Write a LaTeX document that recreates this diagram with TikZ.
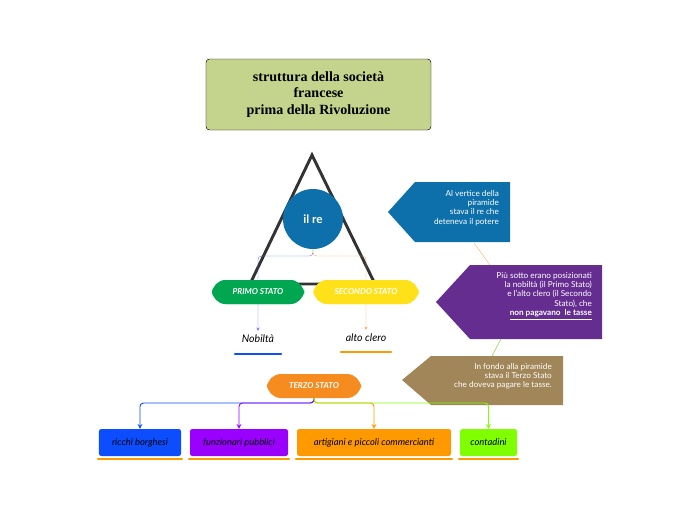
\documentclass[tikz,border=0pt]{standalone}
\usepackage{fontspec}
\setmainfont{Lato}
\newfontfamily\titlefont{Liberation Serif}
\usetikzlibrary{shapes,arrows,positioning,fit}
\definecolor{titlegreen}{HTML}{C5D48C}
\definecolor{reblue}{HTML}{0E70AA}
\definecolor{primogreen}{HTML}{00A650}
\definecolor{secyellow}{HTML}{FFE11A}
\definecolor{terzoorange}{HTML}{F68B1F}
\definecolor{calpurple}{HTML}{662D91}
\definecolor{calbrown}{HTML}{A08658}
\definecolor{kidblue}{HTML}{0B4DFF}
\definecolor{kidpurple}{HTML}{9900FF}
\definecolor{kidorange}{HTML}{FF9900}
\definecolor{kidlime}{HTML}{7FFF00}
\begin{document}
\begin{tikzpicture}[
    x=0.03cm,y=-0.03cm,
    stato/.style={rounded corners=12,minimum height=0.72cm,text=white,font=\scriptsize\bfseries\itshape},
    kid/.style={rounded corners=2,minimum height=0.81cm,font=\footnotesize\itshape},
    note/.style={text=white,font=\scriptsize,align=right},
    link/.style={->,>=stealth,thick,rounded corners=3},
    thin/.style={line width=0.3pt}
]
    \useasboundingbox (0,0) rectangle (697,520);

    \node[draw,rounded corners=3,fill=titlegreen,minimum width=6.75cm,minimum height=2.13cm,
        align=center,font=\titlefont\bfseries\large] (title) at (318.5,94.5)
        {struttura della società\\ francese\\ prima della Rivoluzione};

    % piramide
    \draw[line width=2.5pt,black!80] (312,155) -- (250,284) -- (375,284) -- cycle;
    \node[circle,fill=reblue,minimum size=1.8cm,text=white,font=\bfseries] (re) at (313,219) {il re};

    \node[stato,fill=primogreen,minimum width=2.76cm] (primo) at (258,292) {PRIMO STATO};
    \node[stato,fill=secyellow,minimum width=3.15cm] (secondo) at (366,292) {SECONDO STATO};

    \node[font=\small\itshape] (nobilta) at (258,339) {Nobiltà};
    \node[font=\small\itshape] (clero) at (366,338) {alto clero};
    \draw[line width=2pt,kidblue,line cap=round] (235,354) -- (281,354);
    \draw[line width=2pt,kidorange,line cap=round] (341,352) -- (391,352);

    \begin{scope}[on background layer/.try]
    \end{scope}
    \draw[->,>=stealth,thin,blue!60,rounded corners=3] (re.south) -- (313,256) -| (nobilta.north);
    \draw[->,>=stealth,thin,orange!70,rounded corners=3] (re.south) -- (313,256) -| (clero.north);
    \node[stato,fill=primogreen,minimum width=2.76cm] at (258,292) {PRIMO STATO};
    \node[stato,fill=secyellow,minimum width=3.15cm] at (366,292) {SECONDO STATO};

    % note
    \fill[reblue] (388,212) -- (415,182) -- (510,182) -- (510,242) -- (415,242) -- cycle;
    \node[note,anchor=north east] (vertice) at (503,186)
        {Al vertice della\\ piramide\\ stava il re che\\ deteneva il potere};
    \fill[calpurple] (436,302) -- (470,265) -- (602,265) -- (602,339) -- (470,339) -- cycle;
    \node[note,anchor=north east] (sotto) at (596,268)
        {Più sotto erano posizionati\\ la nobiltà (il Primo Stato)\\ e l'alto clero (il Secondo\\ Stato), che\\ \textbf{\underline{non pagavano\ \ le tasse}}};
    \fill[calbrown] (402,380) -- (431,356) -- (563,356) -- (563,405) -- (431,405) -- cycle;
    \node[note,anchor=north east] (fondo) at (556,359)
        {In fondo alla piramide\\ stava il Terzo Stato\\ che doveva pagare le tasse.};
    \coordinate (vb) at (474,243);
    \coordinate (pt) at (490,265);
    \coordinate (pb) at (501,339);
    \coordinate (bt) at (492,356);
    \draw[thin,orange!70] (vb) -- (pt);
    \draw[thin,kidlime!80!black] (pb) -- (bt);

    % terzo stato
    \node[stato,fill=terzoorange,minimum width=2.82cm] (terzo) at (314,386) {TERZO STATO};
    \node[kid,fill=kidblue,minimum width=2.46cm] (ricchi) at (140,442.5) {ricchi borghesi};
    \node[kid,fill=kidpurple,minimum width=2.94cm] (funz) at (239,442.5) {funzionari pubblici};
    \node[kid,fill=kidorange,minimum width=4.62cm] (artig) at (374,442.5) {artigiani e piccoli commercianti};
    \node[kid,fill=kidlime,minimum width=1.71cm] (conta) at (488.5,442.5) {contadini};
    \foreach \a/\b in {99/181,190/288,297/451,460/517}
        \draw[line width=2pt,kidorange,line cap=round] (\a-1,459) -- (\b+1,459);

    \draw[link,kidblue] (terzo.south) |- (140,403) -- (ricchi.north);
    \draw[link,kidpurple] (terzo.south) |- (239,403) -- (funz.north);
    \draw[link,kidorange] (terzo.south) |- (374,403) -- (artig.north);
    \draw[link,kidlime] (terzo.south) |- (488.5,403) -- (conta.north);
\end{tikzpicture}
\end{document}
